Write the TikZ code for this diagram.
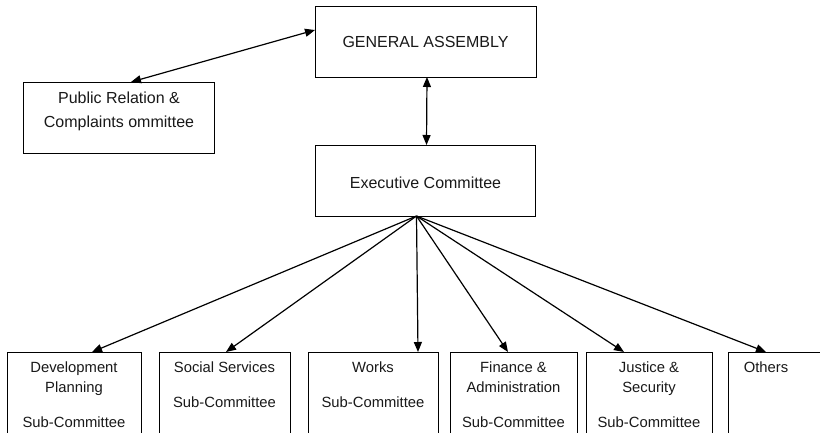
\documentclass[tikz,border=0pt]{standalone}
\usepackage{fontspec}
\setmainfont{Liberation Sans}
\usetikzlibrary{arrows.meta}
\begin{document}
\begin{tikzpicture}[x={(1pt,0pt)},y={(0pt,-1pt)},
  box/.style={draw=black,line width=1pt,rectangle,inner sep=0pt,outer sep=0pt},
  bigtxt/.style={inner sep=0pt,anchor=base,font=\fontsize{16}{19}\selectfont,text=black!90},
  smalltxt/.style={inner sep=0pt,anchor=base,font=\fontsize{14.8}{18}\selectfont,text=black!90},
  tip/.style={},
  conn/.style={line width=1.2pt,-{Triangle[length=10pt,width=8pt]}},
  dconn/.style={line width=1.2pt,{Triangle[length=10pt,width=8pt]}-{Triangle[length=10pt,width=8pt]}}]
\useasboundingbox (0,0) rectangle (820,432);
\clip (0,0) rectangle (820,432);
\fill[white] (0,0) rectangle (820,432);
% top boxes
\node[box,minimum width=221pt,minimum height=71pt,anchor=north west] (ga) at (315,6) {};
\node[bigtxt] (gat) at (425.5,47.7) {GENERAL ASSEMBLY};
\node[box,minimum width=191pt,minimum height=71pt,anchor=north west] (pr) at (23,82) {};
\node[bigtxt] (prt1) at (119,103.7) {Public Relation \&};
\node[bigtxt] (prt2) at (119,127.2) {Complaints ommittee};
\node[box,minimum width=220pt,minimum height=71pt,anchor=north west] (ec) at (315,145) {};
\node[bigtxt] (ect) at (425.5,188.7) {Executive Committee};
% bottom boxes
\node[box,minimum width=134pt,minimum height=110pt,anchor=north west] (b1) at (7,352) {};
\node[box,minimum width=131pt,minimum height=110pt,anchor=north west] (b2) at (159,352) {};
\node[box,minimum width=130pt,minimum height=110pt,anchor=north west] (b3) at (308,352) {};
\node[box,minimum width=127pt,minimum height=110pt,anchor=north west] (b4) at (450,352) {};
\node[box,minimum width=126pt,minimum height=110pt,anchor=north west] (b5) at (586,352) {};
\node[box,minimum width=130pt,minimum height=110pt,anchor=north west] (b6) at (728,352) {};
\node[smalltxt] (b1a) at (74,372.5) {Development};
\node[smalltxt] (b1b) at (74,392) {Planning};
\node[smalltxt] (b1c) at (74,427) {Sub-Committee};
\node[smalltxt] (b2a) at (224.5,372.5) {Social Services};
\node[smalltxt] (b2b) at (224.5,407.5) {Sub-Committee};
\node[smalltxt] (b3a) at (373,372.5) {Works};
\node[smalltxt] (b3b) at (373,407.5) {Sub-Committee};
\node[smalltxt] (b4a) at (513.5,372.5) {Finance \&};
\node[smalltxt] (b4b) at (513.5,392) {Administration};
\node[smalltxt] (b4c) at (513.5,427) {Sub-Committee};
\node[smalltxt] (b5a) at (649,372.5) {Justice \&};
\node[smalltxt] (b5b) at (649,392) {Security};
\node[smalltxt] (b5c) at (649,427) {Sub-Committee};
\node[smalltxt] (b6a) at (766,372.5) {Others};
% connectors
\draw[dconn] ([xshift=12.5pt]pr.north) -- ([yshift=11.5pt]ga.west);
\draw[dconn] ([xshift=1.5pt]ga.south) -- ([xshift=1.5pt]ec.north);
\coordinate (fan) at ([xshift=-8.5pt]ec.south);
\draw[conn] (fan) -- ([xshift=18pt]b1.north);
\draw[conn] (fan) -- ([xshift=1.5pt]b2.north);
\draw[conn] (fan) -- ([xshift=45pt]b3.north);
\draw[conn] (fan) -- ([xshift=-5.5pt]b4.north);
\draw[conn] (fan) -- ([xshift=-25pt]b5.north);
\draw[conn] (fan) -- ([xshift=-27pt]b6.north);
\end{tikzpicture}
\end{document}
